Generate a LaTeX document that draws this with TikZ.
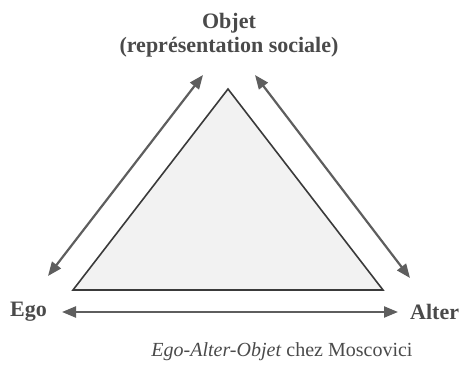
\documentclass[tikz,border=0pt]{standalone}
\usepackage{fontspec}
\setmainfont{Liberation Serif}
\usetikzlibrary{arrows.meta}
\definecolor{txtgray}{HTML}{4A4A4A}
\definecolor{arrgray}{HTML}{5E5E5E}
\definecolor{trifill}{HTML}{F2F2F2}
\definecolor{tristroke}{HTML}{3A3A3A}
\tikzset{
  tip/.tip={Triangle[length=14pt,width=11pt]},
  lbl/.style={font=\fontsize{22}{24}\selectfont\bfseries, text=txtgray, inner sep=0pt},
  arr/.style={draw=arrgray, line width=2.2pt, tip-tip},
  tri/.style={draw=tristroke, line width=1.6pt, fill=trifill, line join=miter},
}
\begin{document}
\begin{tikzpicture}[x=1pt,y=-1pt]
\useasboundingbox (0,0) rectangle (459,369);
\node[lbl, align=center] (objet) at (229,35) {Objet\\(représentation sociale)};
\node[lbl, anchor=west] (ego) at (10,312) {Ego};
\node[lbl, anchor=west] (alter) at (410,312) {Alter};
\coordinate (apex) at (228,89);
\coordinate (bl) at (73,290);
\coordinate (br) at (383,290);
\draw[tri] (apex) -- (bl) -- (br) -- cycle;
\coordinate (la) at (48,276);
\coordinate (lb) at (203,75);
\coordinate (ra) at (255,75);
\coordinate (rb) at (410,278);
\coordinate (ha) at (62,312);
\coordinate (hb) at (398,312);
\draw[arr] (la) -- (lb);
\draw[arr] (ra) -- (rb);
\draw[arr] (ha) -- (hb);
\node[font=\fontsize{20}{22}\selectfont, text=txtgray, inner sep=0pt] (caption) at (282,352) {\textit{Ego-Alter-Objet} chez Moscovici};
\end{tikzpicture}
\end{document}
